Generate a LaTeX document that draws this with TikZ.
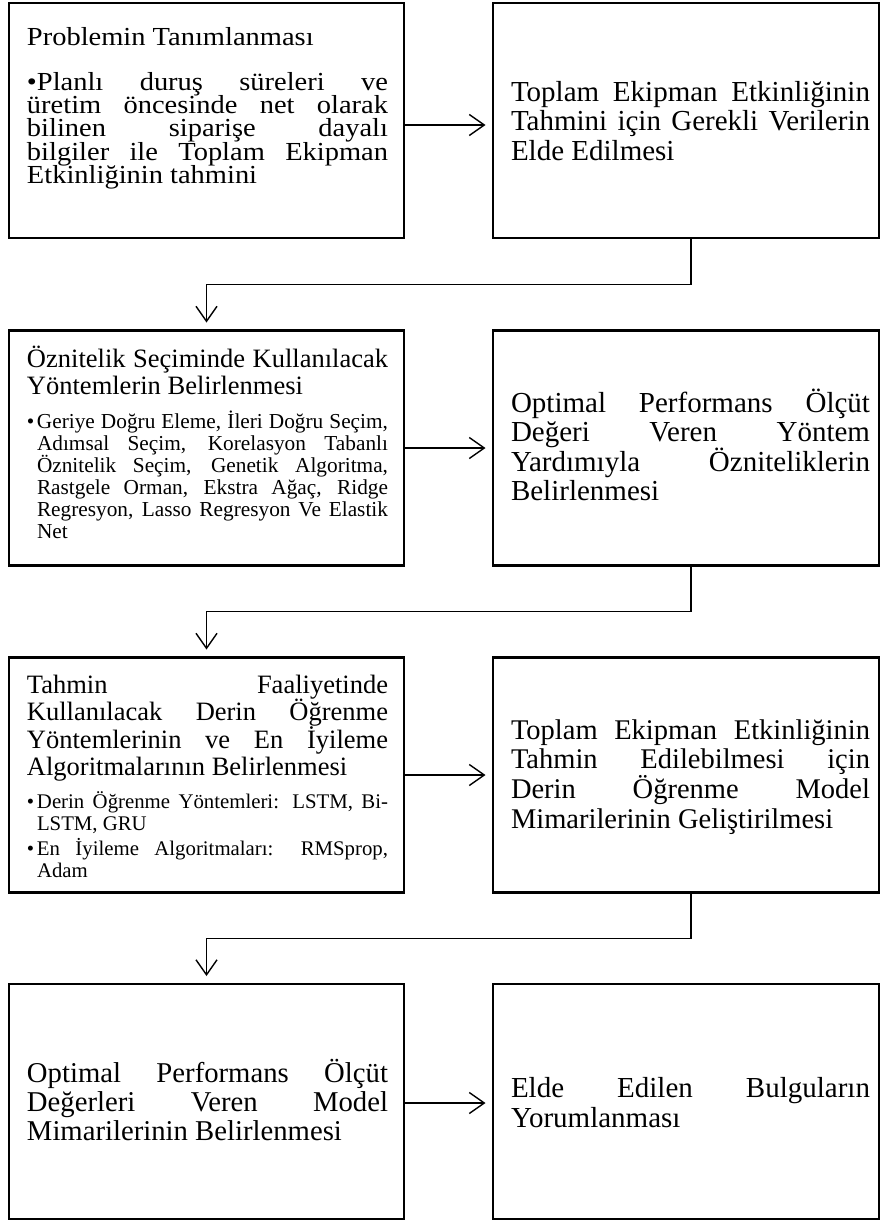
\documentclass[tikz,border=0pt]{standalone}
\usepackage{fontspec}
\setmainfont{Liberation Serif}
% slightly wider cut of the serif face used in the first box
\newfontfamily\wideserif[FakeStretch=1.095]{Liberation Serif}
\usetikzlibrary{arrows.meta,calc}

% justified paragraphs with fixed line pitch and forced line breaks
\newcommand\jsetup{\lineskiplimit=-100pt\tolerance=10000\hbadness=10000\hyphenpenalty=10000\exhyphenpenalty=10000\parindent=0pt}
\newcommand\bitem{\par\hangindent=10pt\hangafter=1\noindent\makebox[10pt][l]{•}}
\newcommand\fs[2]{\fontsize{#1}{#2}\selectfont}

\begin{document}
\begin{tikzpicture}[x=1pt,y=-1pt,
  box/.style={draw, line width=2.2pt, inner sep=0pt, outer sep=0pt},
  lbox/.style={box, minimum width=395pt, minimum height=235pt},
  rbox/.style={box, minimum width=386pt, minimum height=235pt},
  txt/.style={anchor=base west, inner sep=0pt, outer sep=0pt},
  link/.style={line width=1.4pt, -{Straight Barb[length=15pt,width=21pt]}, shorten >=7.5pt},
  vlink/.style={link, shorten >=8pt}]
\useasboundingbox (0,0) rectangle (881,1221);

% boxes
\node[lbox] (b1) at (206.5,120.5) {};
\node[rbox] (b2) at (686,120.5) {};
\node[lbox] (b3) at (206.5,448) {};
\node[rbox] (b4) at (686,448) {};
\node[lbox] (b5) at (206.5,775) {};
\node[rbox] (b6) at (686,775) {};
\node[lbox] (b7) at (206.5,1101.5) {};
\node[rbox] (b8) at (686,1101.5) {};

% texts
\node[txt] (t1) at (27,45) {\parbox[t]{361pt}{\jsetup\wideserif\fs{26}{23.4}%
  Problemin Tanımlanması\par\vspace{21.6pt}
  •Planlı duruş süreleri ve\linebreak üretim öncesinde net olarak\linebreak bilinen siparişe dayalı\linebreak bilgiler ile Toplam Ekipman\linebreak Etkinliğinin tahmini}};

\node[txt] (t2) at (511,101) {\parbox[t]{359pt}{\jsetup\fs{29}{29.5}%
  Toplam Ekipman Etkinliğinin\linebreak Tahmini için Gerekli Verilerin\linebreak Elde Edilmesi}};

\node[txt] (t3) at (27,367) {\parbox[t]{361pt}{\jsetup\fs{26.5}{27}%
  Öznitelik Seçiminde Kullanılacak\linebreak Yöntemlerin Belirlenmesi\par
  \fs{21.3}{22}\vspace{12pt}%
  \bitem Geriye Doğru Eleme, İleri Doğru Seçim,\linebreak Adımsal Seçim, Korelasyon Tabanlı\linebreak Öznitelik Seçim, Genetik Algoritma,\linebreak Rastgele Orman, Ekstra Ağaç, Ridge\linebreak Regresyon, Lasso Regresyon Ve Elastik\linebreak Net}};

\node[txt] (t4) at (511,412) {\parbox[t]{359pt}{\jsetup\fs{29}{29.5}%
  Optimal Performans Ölçüt\linebreak Değeri Veren Yöntem\linebreak Yardımıyla Özniteliklerin\linebreak Belirlenmesi}};

\node[txt] (t5) at (27,693) {\parbox[t]{361pt}{\jsetup\fs{26.5}{27.5}%
  Tahmin Faaliyetinde\linebreak Kullanılacak Derin Öğrenme\linebreak Yöntemlerinin ve En İyileme\linebreak Algoritmalarının Belirlenmesi\par
  \fs{20.8}{22}\vspace{10.5pt}%
  \bitem Derin Öğrenme Yöntemleri: LSTM, Bi-\linebreak LSTM, GRU\par\vspace{3pt}%
  \bitem En İyileme Algoritmaları: RMSprop,\linebreak Adam}};

\node[txt] (t6) at (511,739) {\parbox[t]{359pt}{\jsetup\fs{28.5}{29.7}%
  Toplam Ekipman Etkinliğinin\linebreak Tahmin Edilebilmesi için\linebreak Derin Öğrenme Model\linebreak Mimarilerinin Geliştirilmesi}};

\node[txt] (t7) at (27,1082) {\parbox[t]{361pt}{\jsetup\fs{28.7}{29}%
  Optimal Performans Ölçüt\linebreak Değerleri Veren Model\linebreak Mimarilerinin Belirlenmesi}};

\node[txt] (t8) at (511,1097) {\parbox[t]{359pt}{\jsetup\fs{29}{30}%
  Elde Edilen Bulguların\linebreak Yorumlanması}};

% horizontal links
\draw[link] ([yshift=-4.5pt]b1.east) -- ([yshift=-4.5pt]b2.west);
\draw[link] (b3.east) -- (b4.west);
\draw[link] (b5.east) -- (b6.west);
\draw[link] ([yshift=-1.5pt]b7.east) -- ([yshift=-1.5pt]b8.west);

% row-to-row links
\draw[vlink] ([xshift=5pt]b2.south) |- ($(b2.south)!.5!(b3.north)$) -| (b3.north);
\draw[vlink] ([xshift=5pt]b4.south) |- ($(b4.south)!.5!(b5.north)$) -| (b5.north);
\draw[vlink] ([xshift=5pt]b6.south) |- ($(b6.south)!.5!(b7.north)$) -| (b7.north);
\end{tikzpicture}
\end{document}
